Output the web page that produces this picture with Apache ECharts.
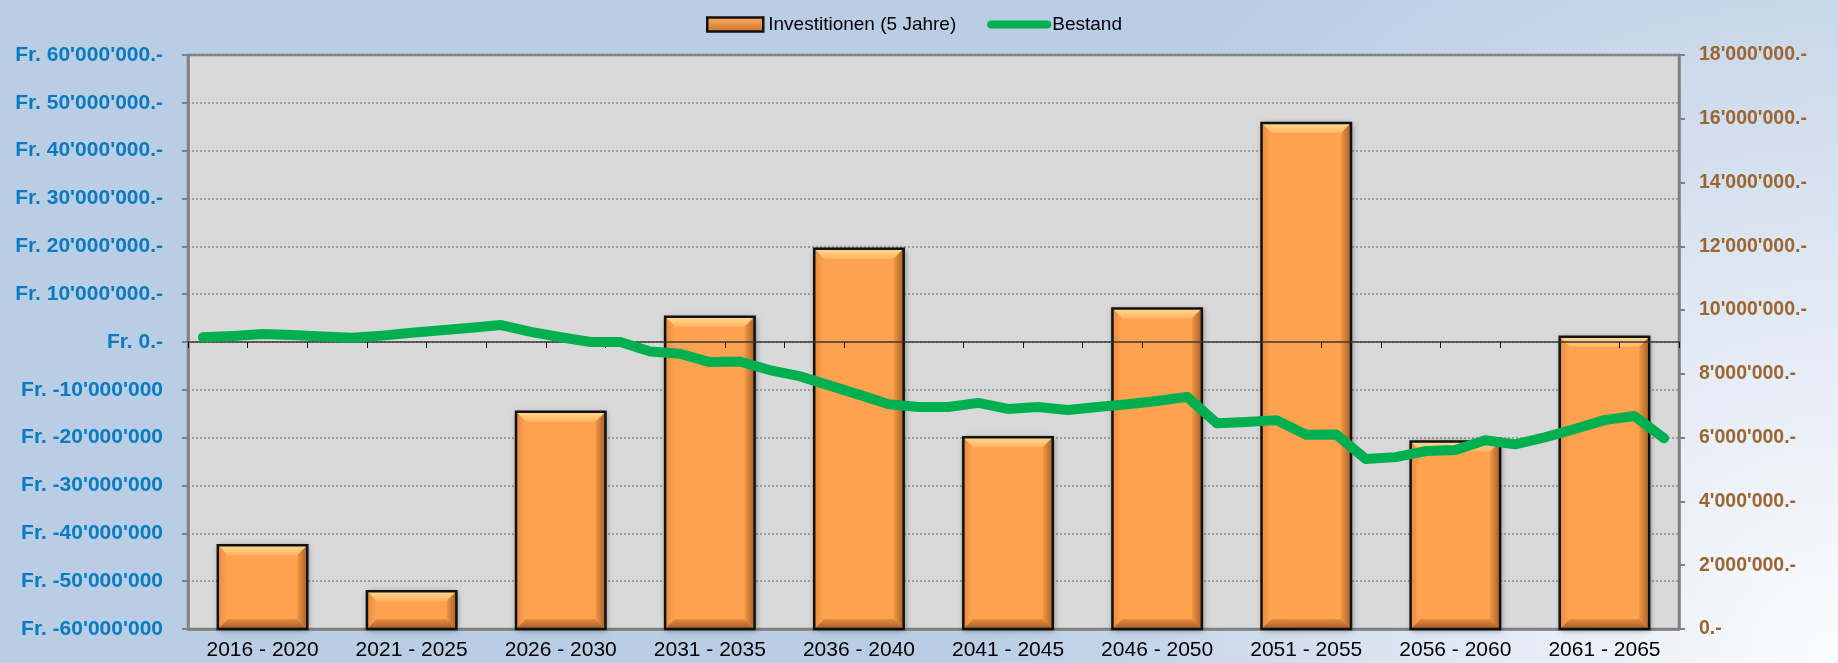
<!DOCTYPE html>
<html>
<head>
<meta charset="utf-8">
<script src="https://cdn.jsdelivr.net/npm/echarts@6/dist/echarts.min.js"></script>
<style>
    html, body { margin: 0; padding: 0; }
    body {
        background: radial-gradient(circle 1100px at 100% 100%, #FBFCFE 0%, #E4EBF5 30%, #C8D7EA 60%, #B9CDE5 80%);
    }
    #chart { width: 1838px; height: 663px; }
</style>
</head>
<body>
<div id="chart"></div>
<script>
const categories = ['2016 - 2020', '2021 - 2025', '2026 - 2030', '2031 - 2035', '2036 - 2040',
    '2041 - 2045', '2046 - 2050', '2051 - 2055', '2056 - 2060', '2061 - 2065']
// Investitionen je 5 Jahre (linke Achse)
const investitionen = [-42.5e6, -52.1e6, -14.6e6, 5.3e6, 19.5e6, -19.9e6, 7.0e6, 45.8e6, -20.8e6, 1.1e6]

const years = [2016, 2017, 2018, 2019, 2020, 2021, 2022, 2023, 2024, 2025,
    2026, 2027, 2028, 2029, 2030, 2031, 2032, 2033, 2034, 2035,
    2036, 2037, 2038, 2039, 2040, 2041, 2042, 2043, 2044, 2045,
    2046, 2047, 2048, 2049, 2050, 2051, 2052, 2053, 2054, 2055,
    2056, 2057, 2058, 2059, 2060, 2061, 2062, 2063, 2064, 2065]
// Bestand pro Jahr (rechte Achse)
const bestand = [9.15e6, 9.19e6, 9.25e6, 9.22e6, 9.17e6, 9.13e6, 9.20e6, 9.29e6, 9.37e6, 9.45e6,
    9.53e6, 9.32e6, 9.15e6, 9.00e6, 9.00e6, 8.70e6, 8.63e6, 8.37e6, 8.39e6, 8.12e6,
    7.93e6, 7.64e6, 7.35e6, 7.05e6, 6.96e6, 6.96e6, 7.09e6, 6.90e6, 6.96e6, 6.87e6,
    6.96e6, 7.05e6, 7.15e6, 7.28e6, 6.45e6, 6.49e6, 6.55e6, 6.09e6, 6.10e6, 5.33e6,
    5.39e6, 5.58e6, 5.61e6, 5.92e6, 5.79e6, 6.01e6, 6.27e6, 6.55e6, 6.68e6, 5.98e6]

const LEFT_MIN = -60e6
const LEFT_MAX = 60e6
const LEFT_STEP = 10e6
const leftTickLabels = ["Fr. -60'000'000", "Fr. -50'000'000", "Fr. -40'000'000", "Fr. -30'000'000",
    "Fr. -20'000'000", "Fr. -10'000'000", "Fr. 0.-", "Fr. 10'000'000.-", "Fr. 20'000'000.-",
    "Fr. 30'000'000.-", "Fr. 40'000'000.-", "Fr. 50'000'000.-", "Fr. 60'000'000.-"]

const RIGHT_MIN = 0
const RIGHT_MAX = 18e6
const RIGHT_STEP = 2e6
const rightTickLabels = ["0.-", "2'000'000.-", "4'000'000.-", "6'000'000.-", "8'000'000.-",
    "10'000'000.-", "12'000'000.-", "14'000'000.-", "16'000'000.-", "18'000'000.-"]

const FONT = "'Liberation Sans', Arial, sans-serif"

function grad(x, y, x2, y2, c1, c2) {
    return { type: 'linear', x: x, y: y, x2: x2, y2: y2, colorStops: [{ offset: 0, color: c1 }, { offset: 1, color: c2 }] }
}

// Balken vom Achsen-Minimum bis zum Wert, mit Bevel wie in Excel
function renderBar(params, api) {
    const idx = api.value(0)
    const top = api.coord([idx, api.value(1)])
    const base = api.coord([idx, LEFT_MIN])
    const w = api.size([1, 0])[0] * 0.6
    const x0 = top[0] - w / 2
    const x1 = top[0] + w / 2
    const y0 = top[1]
    const y1 = base[1]
    const b = Math.min(10, (y1 - y0) / 2)
    return {
        type: 'group',
        children: [
            {
                type: 'rect',
                shape: { x: x0, y: y0, width: w, height: y1 - y0 },
                style: { fill: '#FFA24F', shadowBlur: 6, shadowColor: 'rgba(0,0,0,0.45)', shadowOffsetX: 1, shadowOffsetY: 1 }
            },
            {
                type: 'polygon',
                shape: { points: [[x0, y0], [x1, y0], [x1 - b, y0 + b], [x0 + b, y0 + b]] },
                style: { fill: grad(0, 0, 0, 1, '#FFDC92', '#FFB462') }
            },
            {
                type: 'polygon',
                shape: { points: [[x0, y0], [x0 + b, y0 + b], [x0 + b, y1 - b], [x0, y1]] },
                style: { fill: grad(0, 0, 1, 0, '#E8893D', '#FFA652') }
            },
            {
                type: 'polygon',
                shape: { points: [[x1, y0], [x1, y1], [x1 - b, y1 - b], [x1 - b, y0 + b]] },
                style: { fill: grad(0, 0, 1, 0, '#F39742', '#A65F2A') }
            },
            {
                type: 'polygon',
                shape: { points: [[x0, y1], [x1, y1], [x1 - b, y1 - b], [x0 + b, y1 - b]] },
                style: { fill: grad(0, 0, 0, 1, '#E58C3F', '#A05C2B') }
            },
            {
                type: 'rect',
                shape: { x: x0, y: y0, width: w, height: y1 - y0 },
                style: { fill: 'none', stroke: '#111', lineWidth: 2.5 }
            }
        ]
    }
}

const chart = echarts.init(document.getElementById('chart'))
chart.setOption({
    backgroundColor: 'transparent',
    animation: false,
    textStyle: { fontFamily: FONT },
    legend: {
        left: 701,
        top: 10,
        itemWidth: 56,
        itemHeight: 14,
        itemGap: 31,
        textStyle: { fontSize: 19, color: '#000', fontFamily: FONT },
        data: [
            {
                name: 'Investitionen (5 Jahre)',
                icon: 'rect',
                itemStyle: { color: grad(0, 0, 0, 1, '#FFB060', '#C87230'), borderColor: '#111', borderWidth: 2.5 }
            },
            {
                name: 'Bestand',
                itemStyle: { color: 'rgba(0,0,0,0)', borderWidth: 0 },
                lineStyle: { width: 8, cap: 'round', color: '#00B050' }
            }
        ]
    },
    grid: {
        left: 188,
        right: 159,
        top: 55,
        bottom: 34,
        show: true,
        backgroundColor: '#D9D9D9',
        borderColor: '#808080',
        borderWidth: 2.5
    },
    xAxis: [
        {
            type: 'category',
            data: categories,
            position: 'bottom',
            boundaryGap: true,
            axisLine: { onZero: false, lineStyle: { color: '#808080', width: 2.5 } },
            axisTick: { show: false },
            axisLabel: { color: '#000', fontSize: 21, margin: 11, fontFamily: FONT },
            splitLine: { show: false }
        },
        {
            // Jahresachse, liegt auf der Null der linken Achse
            type: 'category',
            data: years,
            position: 'bottom',
            boundaryGap: true,
            z: 3,
            axisLine: { onZero: true, onZeroAxisIndex: 0, lineStyle: { color: '#3a3a3a', width: 1.5 } },
            axisTick: { show: true, length: 6, lineStyle: { color: '#111', width: 1 } },
            axisLabel: { show: false },
            splitLine: { show: false }
        }
    ],
    yAxis: [
        {
            type: 'value',
            position: 'left',
            min: LEFT_MIN,
            max: LEFT_MAX,
            interval: LEFT_STEP,
            axisLine: { show: true, lineStyle: { color: '#808080', width: 2.5 } },
            axisTick: { show: true, length: 6, lineStyle: { color: '#808080', width: 2 } },
            axisLabel: {
                color: '#0B7BC1',
                fontSize: 21,
                fontWeight: 'bold',
                margin: 25,
                fontFamily: FONT,
                formatter: v => leftTickLabels[Math.round((v - LEFT_MIN) / LEFT_STEP)]
            },
            splitLine: { show: true, lineStyle: { color: '#8a8a8a', width: 1.5, type: [2, 2] } }
        },
        {
            type: 'value',
            position: 'right',
            min: RIGHT_MIN,
            max: RIGHT_MAX,
            interval: RIGHT_STEP,
            axisLine: { show: true, lineStyle: { color: '#808080', width: 2.5 } },
            axisTick: { show: true, length: 6, lineStyle: { color: '#808080', width: 2 } },
            axisLabel: {
                color: '#9C6631',
                fontSize: 19.5,
                fontWeight: 'bold',
                margin: 20,
                fontFamily: FONT,
                formatter: v => rightTickLabels[Math.round((v - RIGHT_MIN) / RIGHT_STEP)]
            },
            splitLine: { show: false }
        }
    ],
    series: [
        {
            name: 'Investitionen (5 Jahre)',
            type: 'custom',
            xAxisIndex: 0,
            yAxisIndex: 0,
            z: 2,
            itemStyle: { color: '#FFA24F' },
            renderItem: renderBar,
            encode: { x: 0, y: 1 },
            data: investitionen.map((v, i) => [i, v])
        },
        {
            name: 'Bestand',
            type: 'line',
            xAxisIndex: 1,
            yAxisIndex: 1,
            z: 5,
            symbol: 'none',
            smooth: false,
            lineStyle: { color: '#00B050', width: 10, cap: 'round', join: 'round' },
            itemStyle: { color: '#00B050' },
            data: bestand
        }
    ]
})
</script>
</body>
</html>
